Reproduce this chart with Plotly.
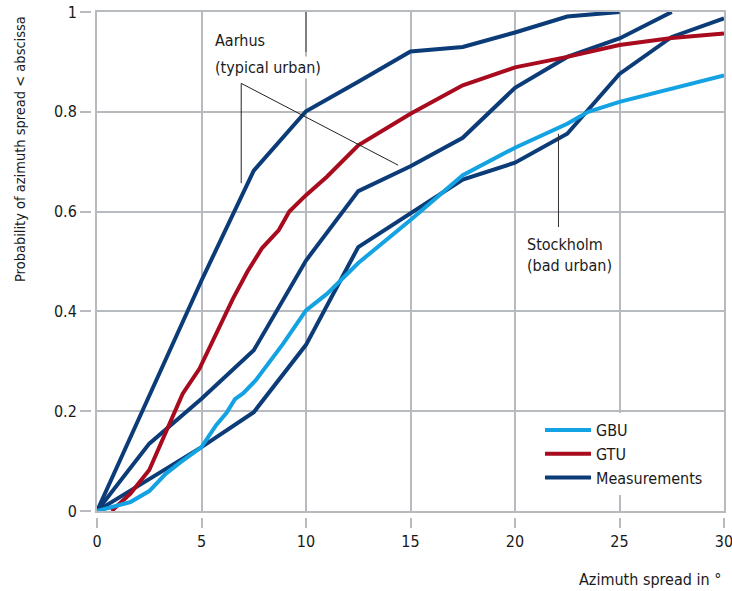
import plotly.graph_objects as go

# Azimuth spread CDFs: GSCM models (GBU, GTU) against measured curves
gbu_x = [0, 1.0, 1.6, 2.5, 3.3, 4.0, 5.0, 5.7, 6.2, 6.6, 7.0, 7.6, 8.3, 8.9, 10.0, 11.0,
         12.5, 15.0, 17.5, 20.0, 22.5, 23.5, 25.0, 27.5, 30.0]
gbu_y = [0, 0.010, 0.018, 0.040, 0.075, 0.098, 0.128, 0.172, 0.197, 0.224, 0.236, 0.262,
         0.302, 0.335, 0.402, 0.435, 0.497, 0.583, 0.673, 0.728, 0.776, 0.800, 0.820, 0.846, 0.873]

gtu_x = [0.7, 1.6, 2.5, 3.3, 4.1, 4.9, 5.7, 6.5, 7.2, 7.9, 8.7, 9.2, 10.0, 11.0,
         12.5, 15.0, 17.5, 20.0, 22.5, 25.0, 27.5, 30.0]
gtu_y = [0, 0.035, 0.082, 0.160, 0.235, 0.285, 0.355, 0.425, 0.480, 0.527, 0.563, 0.600,
         0.633, 0.670, 0.733, 0.796, 0.853, 0.889, 0.910, 0.934, 0.948, 0.957]

aarhus_1_x = [0, 2.5, 5, 7.5, 10, 12.5, 15, 17.5, 20, 22.5, 25]
aarhus_1_y = [0, 0.230, 0.462, 0.682, 0.801, 0.860, 0.921, 0.930, 0.959, 0.991, 1.0]

aarhus_2_x = [0, 2.5, 5, 7.5, 10, 12.5, 15, 17.5, 20, 22.5, 25, 27.5]
aarhus_2_y = [0, 0.135, 0.225, 0.322, 0.502, 0.641, 0.691, 0.748, 0.848, 0.910, 0.947, 1.0]

stockholm_x = [0, 5, 7.5, 10, 12.5, 15, 17.5, 20, 22.5, 25, 27.5, 30]
stockholm_y = [0, 0.128, 0.198, 0.333, 0.529, 0.597, 0.664, 0.698, 0.756, 0.876, 0.950, 0.987]

x_ticks = [0, 5, 10, 15, 20, 25, 30]
y_ticks = [0, 0.2, 0.4, 0.6, 0.8, 1]
y_tick_text = ["0", "0.2", "0.4", "0.6", "0.8", "1"]

LIGHT_BLUE = "#13a2e2"
RED = "#a80a1e"
DARK_BLUE = "#0c3c78"
GRID = "#b7babe"
FONT = "DejaVu Sans Condensed, Liberation Sans Narrow, Arial Narrow, sans-serif"
TEXT = "#1a1a1a"
FS = 16

fig = go.Figure()

meas_sets = [(aarhus_1_x, aarhus_1_y), (aarhus_2_x, aarhus_2_y), (stockholm_x, stockholm_y)]
for i, (xs, ys) in enumerate(meas_sets):
    fig.add_trace(go.Scatter(
        x=xs, y=ys, mode="lines", name="Measurements",
        line=dict(color=DARK_BLUE, width=4),
        legendgroup="meas", showlegend=(i == 0), legendrank=3,
    ))

fig.add_trace(go.Scatter(x=gtu_x, y=gtu_y, mode="lines", name="GTU",
                         line=dict(color=RED, width=4), legendrank=2))
fig.add_trace(go.Scatter(x=gbu_x, y=gbu_y, mode="lines", name="GBU",
                         line=dict(color=LIGHT_BLUE, width=4), legendrank=1))

W, H = 732, 591
ML, MR, MT, MB = 91, 8, 12, 74
pw, ph = W - ML - MR, H - MT - MB
gap = 6

fig.update_layout(
    width=W, height=H,
    margin=dict(l=ML, r=MR, t=MT, b=MB, autoexpand=False),
    paper_bgcolor="white", plot_bgcolor="white",
    font=dict(family=FONT, size=FS, color=TEXT),
    showlegend=True,
    legend=dict(
        x=(540 - ML) / pw, y=(H - MB - 413) / ph, xanchor="left", yanchor="top",
        bgcolor="white", borderwidth=0, font=dict(size=FS, family=FONT, color=TEXT),
        tracegroupgap=0, itemwidth=46,
    ),
    xaxis=dict(
        domain=[gap / pw, 1], range=[0, 30], tickvals=x_ticks, automargin=False,
        showgrid=True, gridcolor=GRID, gridwidth=1.5, zeroline=False,
        showline=True, linecolor=GRID, linewidth=1.5, mirror=True,
        ticks="", showticklabels=False,
    ),
    yaxis=dict(
        domain=[gap / ph, 1], range=[0, 1], tickvals=y_ticks, automargin=False,
        showgrid=True, gridcolor=GRID, gridwidth=1.5, zeroline=False,
        showline=True, linecolor=GRID, linewidth=1.5, mirror=True,
        ticks="", showticklabels=False,
    ),
    xaxis2=dict(
        overlaying="x", anchor="free", position=0, range=[0, 30], tickvals=x_ticks,
        ticks="outside", ticklen=10, tickcolor=GRID, tickwidth=1.5, automargin=False,
        showgrid=False, zeroline=False, showline=False, ticklabeloverflow="allow",
        tickfont=dict(size=FS, family=FONT, color=TEXT),
    ),
    yaxis2=dict(
        overlaying="y", anchor="free", position=0, range=[0, 1], tickvals=y_ticks,
        ticktext=y_tick_text, ticklabeloverflow="allow", automargin=False,
        ticks="outside", ticklen=11, tickcolor=GRID, tickwidth=1.5,
        showgrid=False, zeroline=False, showline=False,
        tickfont=dict(size=FS, family=FONT, color=TEXT),
    ),
)

# Invisible trace so the tick-only axes are drawn
fig.add_trace(go.Scatter(x=[0, 30], y=[0, 1], xaxis="x2", yaxis="y2", mode="lines",
                         line=dict(width=0), hoverinfo="skip", showlegend=False))

# Axis titles
fig.add_annotation(
    text="Probability of azimuth spread &lt; abscissa", textangle=-90,
    xref="paper", yref="paper", x=(20 - ML) / pw, y=(H - MB - 14) / ph,
    xanchor="center", yanchor="top", showarrow=False,
    font=dict(size=14.5, family=FONT, color=TEXT),
)
fig.add_annotation(
    text="Azimuth spread in °", xref="paper", yref="paper",
    x=(723 - ML) / pw, y=(H - MB - 579) / ph, xanchor="right", yanchor="middle",
    showarrow=False, font=dict(size=FS, family=FONT, color=TEXT),
)

# Curve group labels with leader lines
fig.add_shape(type="line", x0=10, x1=10, y0=0.92, y1=1.0, xref="x", yref="y",
              line=dict(color="#6b6b6b", width=1.5))
fig.add_annotation(text="Aarhus", x=5.56, y=0.942, xref="x", yref="y",
                   xanchor="left", yanchor="middle", showarrow=False,
                   font=dict(size=FS, family=FONT, color=TEXT))
fig.add_annotation(text="(typical urban)", x=5.56, y=0.889, xref="x", yref="y",
                   xanchor="left", yanchor="middle", showarrow=False, bgcolor="white",
                   borderpad=1, font=dict(size=FS, family=FONT, color=TEXT))
fig.add_shape(type="line", x0=6.9, x1=6.9, y0=0.857, y1=0.657, xref="x", yref="y",
              line=dict(color="#222222", width=1))
fig.add_shape(type="line", x0=6.9, x1=14.41, y0=0.857, y1=0.693, xref="x", yref="y",
              line=dict(color="#222222", width=1))

fig.add_annotation(text="Stockholm<br>(bad urban)", x=20.48, y=0.514, xref="x", yref="y",
                   xanchor="left", yanchor="middle", align="left", showarrow=False,
                   font=dict(size=FS, family=FONT, color=TEXT))
fig.add_shape(type="line", x0=22.08, x1=22.08, y0=0.756, y1=0.569, xref="x", yref="y",
              line=dict(color="#333333", width=1))

fig.write_html("out.html")
